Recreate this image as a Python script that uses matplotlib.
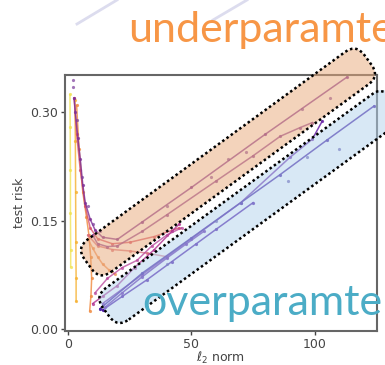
import matplotlib
matplotlib.use("Agg")
import matplotlib.pyplot as plt
from matplotlib.patches import FancyBboxPatch
from matplotlib.transforms import Affine2D
from matplotlib.lines import Line2D
import numpy as np

# ---------------- data ----------------
yellow_x = [0.8, 0.9, 1.0, 1.0, 1.1, 1.1]
yellow_y = [0.325, 0.28, 0.22, 0.16, 0.11, 0.086]
gold_x = [2.8, 3.0, 3.1, 3.2, 3.3, 3.3]
gold_y = [0.318, 0.26, 0.19, 0.12, 0.07, 0.038]

orange1_x = [3.5, 4.5, 6.0, 7.5, 8.5, 9.2, 9.6, 9.3, 8.8]
orange1_y = [0.31, 0.25, 0.19, 0.155, 0.13, 0.10, 0.07, 0.045, 0.025]
orange2_x = [8.0, 10.0, 12.0, 14.0, 16.5, 19.0]
orange2_y = [0.125, 0.112, 0.100, 0.090, 0.082, 0.076]

red1_x = [2.5, 3.5, 5.0, 7.0, 9.0, 12.0, 18.0, 25.0, 35.0, 45.0]
red1_y = [0.32, 0.27, 0.22, 0.17, 0.14, 0.125, 0.118, 0.12, 0.128, 0.14]
red2_x = [8.0, 12.0, 18.0, 25.0, 32.0, 40.0]
red2_y = [0.13, 0.115, 0.11, 0.108, 0.105, 0.10]

magenta1_x = [10, 14, 20, 27, 35, 42, 45]
magenta1_y = [0.035, 0.045, 0.06, 0.085, 0.11, 0.135, 0.145]
magenta2_x = [11, 16, 22, 28, 34, 40, 46]
magenta2_y = [0.05, 0.07, 0.085, 0.095, 0.115, 0.13, 0.14]

purpleA_x = [2.5, 3, 4, 5, 6, 7, 9, 11, 14, 20, 30, 50, 80, 113]
purpleA_y = [0.32, 0.30, 0.265, 0.235, 0.20, 0.175, 0.152, 0.137, 0.127, 0.124,
             0.148, 0.196, 0.270, 0.349]
purpleB_x = [10, 12, 16, 20, 30, 40, 60, 75, 86, 94, 99]
purpleB_y = [0.13, 0.118, 0.114, 0.115, 0.135, 0.158, 0.205, 0.24, 0.267, 0.279, 0.286]
purpleC_x = [14, 30, 50, 70, 90, 99, 103]
purpleC_y = [0.035, 0.075, 0.125, 0.175, 0.238, 0.263, 0.288]

violetD_x = [13, 30, 50, 70, 86, 105, 124]
violetD_y = [0.028, 0.077, 0.126, 0.175, 0.214, 0.262, 0.309]
violetE_x = [14, 22, 32, 42, 52, 60, 75]
violetE_y = [0.026, 0.045, 0.068, 0.093, 0.118, 0.138, 0.175]
violetF_x = [15, 22, 30, 40, 48, 55]
violetF_y = [0.03, 0.05, 0.072, 0.098, 0.118, 0.135]

dots_purple_x = [2.0, 2.2, 3.5, 5.5, 8.0, 10.0, 13.0, 58, 72, 95, 106, 65, 40]
dots_purple_y = [0.345, 0.335, 0.29, 0.21, 0.17, 0.145, 0.135, 0.21, 0.245, 0.305,
                 0.32, 0.235, 0.17]
dots_blue_x = [89, 97, 125, 60, 40, 110]
dots_blue_y = [0.205, 0.238, 0.31, 0.15, 0.09, 0.25]

x_ticks = [0, 50, 100]
y_ticks = [0.00, 0.15, 0.30]
y_tick_labels = ["0.00", "0.15", "0.30"]

# ---------------- figure ----------------
W, H = 385, 365
fig = plt.figure(figsize=(W / 100, H / 100), dpi=100)
ax = fig.add_axes([65 / W, (H - 331) / H, 312 / W, 256 / H])

series = [
    (yellow_x, yellow_y, "#efe24a", 0.75),
    (gold_x, gold_y, "#f6b02e", 0.8),
    (orange1_x, orange1_y, "#f0883c", 0.8),
    (orange2_x, orange2_y, "#ef8f55", 0.75),
    (red1_x, red1_y, "#d6506a", 0.8),
    (red2_x, red2_y, "#d86a78", 0.75),
    (magenta1_x, magenta1_y, "#b0308f", 0.8),
    (magenta2_x, magenta2_y, "#b8459a", 0.75),
    (purpleA_x, purpleA_y, "#7d2e96", 0.8),
    (purpleB_x, purpleB_y, "#8a3d98", 0.8),
    (purpleC_x, purpleC_y, "#6a24a8", 0.85),
    (violetD_x, violetD_y, "#3f17a0", 0.9),
    (violetE_x, violetE_y, "#4a12a6", 0.9),
    (violetF_x, violetF_y, "#5a1aa8", 0.85),
]
for xs, ys, c, a in series:
    ax.plot(xs, ys, color=c, lw=1.1, alpha=a, marker="o", ms=2.3,
            mec="none")
ax.plot(dots_purple_x, dots_purple_y, "o", color="#7a3a9a", ms=2.3, alpha=0.7, mec="none")
ax.plot(dots_blue_x, dots_blue_y, "o", color="#4a3aa0", ms=2.3, alpha=0.7, mec="none")

ax.set_xlim(-1.2, 125.2)
ax.set_ylim(-0.003, 0.352)
ax.set_xticks(x_ticks)
ax.set_yticks(y_ticks)
ax.set_yticklabels(y_tick_labels)
ax.tick_params(labelsize=9, colors="#444444", length=3, width=1, pad=2)
for s in ax.spines.values():
    s.set_color("#666666")
    s.set_linewidth(1.5)
ax.set_xlabel(r"$\ell_2$ norm", fontsize=9, color="#444444", labelpad=-1)
ax.set_ylabel("test risk", fontsize=9, color="#444444", labelpad=3)

# ---------------- overlay annotations (pixel coordinates) ----------------
def rounded_box(x0, y0, x1, y1, width, fc):
    dx, dy = x1 - x0, y0 - y1
    L = np.hypot(dx, dy)
    ang = np.degrees(np.arctan2(dy, dx))
    tr = Affine2D().rotate_deg(ang).translate(x0, H - y0)
    p = FancyBboxPatch((0, -width / 2), L, width,
                       boxstyle="round,pad=0,rounding_size=14",
                       transform=tr, facecolor=fc, alpha=0.5,
                       edgecolor="none", zorder=5)
    fig.add_artist(p)
    e = FancyBboxPatch((0, -width / 2), L, width,
                       boxstyle="round,pad=0,rounding_size=14",
                       transform=tr, facecolor="none",
                       edgecolor="black", lw=1.8, linestyle=(0, (1, 1.1)),
                       zorder=6)
    fig.add_artist(e)

rounded_box(88, 264, 368, 60, 40, "#e8a878")
rounded_box(106, 312, 396, 101, 39, "#b2d2ec")

# faint strokes at the top
for (a, b, c, d) in [(77, 24, 117, 0), (213, 20, 247, 0)]:
    fig.add_artist(Line2D([a / W, c / W], [(H - b) / H, (H - d) / H],
                          transform=fig.transFigure, color="#dcdcee", lw=2))

fig.text(128 / W, (H - 42) / H, "underparamte", fontsize=31,
         family="Lato", color="#f79646", va="baseline", ha="left", zorder=8)
fig.text(142 / W, (H - 315) / H, "overparamte", fontsize=31,
         family="Lato", color="#4bacc6", va="baseline", ha="left", zorder=8)

fig.savefig("out.png", dpi=100)
